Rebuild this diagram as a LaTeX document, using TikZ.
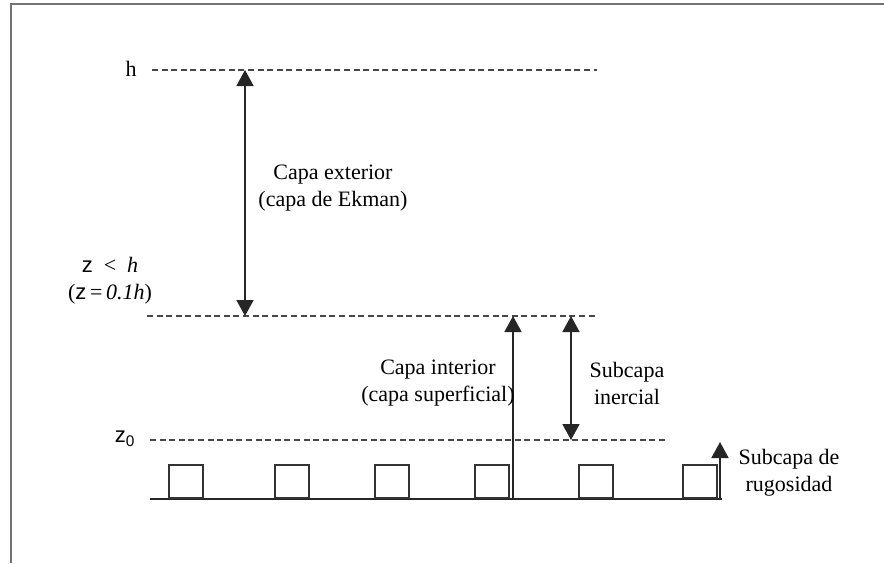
\documentclass[tikz,border=0pt]{standalone}
\usepackage{fontspec}
\setmainfont{Liberation Serif}
\newfontfamily\zsans{Liberation Sans}
\usetikzlibrary{arrows.meta}
\begin{document}
\begin{tikzpicture}[x=1pt,y=-1pt,
  lvl/.style={draw=black!72, line width=1.6pt, dash pattern=on 6pt off 3.6pt},
  dim/.style={draw=black!85, line width=1.7pt},
  uptip/.style={-{Triangle[width=17pt,length=16pt]}},
  bothtips/.style={{Triangle[width=17pt,length=16pt]}-{Triangle[width=17pt,length=16pt]}},
  lbl/.style={font=\fontsize{22}{27}\selectfont, align=center, inner sep=0pt},
  roughbox/.style={draw=black!80, line width=1.6pt, minimum width=34pt,
    minimum height=33pt, inner sep=0pt, anchor=south west},
  framestyle/.style={draw=black!55, line width=2.2pt}]
\useasboundingbox (0,0) rectangle (884,563);

% frame (top and left edges)
\coordinate (fTL) at (11,4);
\coordinate (fTR) at (884,4);
\coordinate (fBL) at (11,563);
\draw[framestyle] (fTR) -- (fTL) -- (fBL);

% reference levels
\coordinate (hL) at (152,70);   \coordinate (hR) at (597,70);
\coordinate (mL) at (147,316);  \coordinate (mR) at (597,316);
\coordinate (zL) at (150,440);  \coordinate (zR) at (665,440);
\draw[lvl] (hL) -- (hR);
\draw[lvl] (mL) -- (mR);
\draw[lvl] (zL) -- (zR);

\node[lbl] (hlab) at (131,69) {h};
\node[lbl] (mlab) at (110,281) {{\zsans z}\ \ <\ \ \textit{h}\\({\zsans z}\,=\,\textit{0.1h})};
\node[lbl] (zlab) at (125,439) {{\zsans z\textsubscript{0}}};

% ground and roughness elements
\coordinate (gL) at (150,499);
\coordinate (gR) at (722,499);
\draw[dim] (gL) -- (gR);
\foreach \i/\x in {1/168,2/274,3/374,4/474,5/578,6/682}
  \node[roughbox] (box\i) at (\x,499) {};

% outer layer
\coordinate (ekTop) at (245,70);
\coordinate (ekBot) at (245,316);
\draw[dim, bothtips] (ekTop) -- (ekBot);
\node[lbl] (ekman) at (333,188) {Capa exterior\\(capa de Ekman)};

% inner layer
\coordinate (inBot) at (513,499);
\coordinate (inTop) at (513,316);
\draw[dim, uptip] (inBot) -- (inTop);
\node[lbl] (inner) at (438,383) {Capa interior\\(capa superficial)};

% inertial sublayer
\coordinate (iTop) at (571,316);
\coordinate (iBot) at (571,440);
\draw[dim, bothtips] (iTop) -- (iBot);
\node[lbl] (inert) at (627,383) {Subcapa\\inercial};

% roughness sublayer
\coordinate (rBot) at (720,499);
\coordinate (rTop) at (720,442);
\draw[dim, uptip] (rBot) -- (rTop);
\node[lbl] (rough) at (789,473) {Subcapa de\\rugosidad};
\end{tikzpicture}
\end{document}
